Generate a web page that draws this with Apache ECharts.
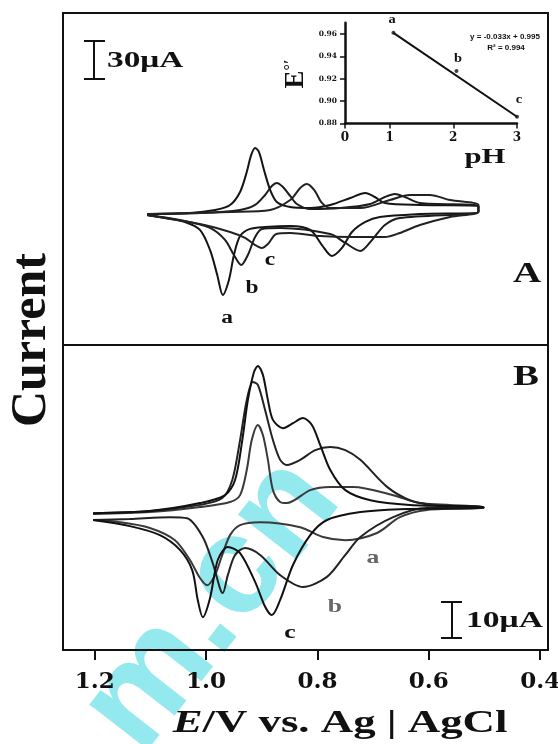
<!DOCTYPE html>
<html><head><meta charset="utf-8">
<script src="https://cdn.jsdelivr.net/npm/echarts@6/dist/echarts.min.js"></script>
<style>html,body{margin:0;padding:0;background:#fff}#c{width:558px;height:744px}</style>
</head><body><div id="c"></div>
<script>
// ---- Panel A: CVs (E / V, I / µA) ----
const cvA_a = [[1.106,0],[1.029,0.8],[0.984,3.2],[0.957,7.1],[0.939,17.4],[0.927,33.1],[0.919,46.6],[0.912,52.1],[0.905,48.9],[0.896,34.7],[0.885,19.0],[0.873,9.5],[0.849,5.5],[0.813,4.7],[0.777,7.1],[0.741,12.6],[0.714,16.6],[0.697,13.4],[0.679,8.7],[0.616,7.1],[0.511,6.3],
[0.511,1.6],[0.616,0],[0.688,-2.4],[0.714,-6.3],[0.738,-14.2],[0.756,-26.8],[0.774,-33.1],[0.792,-24.5],[0.813,-12.6],[0.849,-9.5],[0.894,-10.3],[0.921,-11.8],[0.939,-17.4],[0.950,-32.4],[0.959,-52.1],[0.970,-63.9],[0.980,-48.1],[0.993,-28.4],[1.011,-12.6],[1.038,-6.3],[1.074,-3.2],[1.106,-0.8]];
const cvA_b = [[1.106,0],[1.011,0.8],[0.939,3.2],[0.912,7.1],[0.894,15.0],[0.882,22.1],[0.873,24.5],[0.862,21.3],[0.849,14.2],[0.837,7.9],[0.813,3.9],[0.759,4.7],[0.705,7.9],[0.679,13.4],[0.661,15.8],[0.643,13.4],[0.616,8.7],[0.511,6.3],
[0.511,1.6],[0.652,-3.2],[0.679,-8.7],[0.702,-20.5],[0.723,-29.2],[0.750,-22.9],[0.777,-15.8],[0.867,-11.0],[0.900,-11.8],[0.912,-18.2],[0.925,-32.4],[0.937,-40.3],[0.950,-32.4],[0.966,-20.5],[0.993,-11.0],[1.047,-4.7],[1.106,-0.8]];
const cvA_c = [[1.106,0],[0.957,1.6],[0.885,3.2],[0.849,11.0],[0.831,20.5],[0.819,23.7],[0.806,19.0],[0.792,8.7],[0.777,4.7],[0.723,4.7],[0.670,11.0],[0.634,15.0],[0.598,15.0],[0.562,11.0],[0.511,7.1],
[0.511,1.6],[0.562,-2.4],[0.616,-8.7],[0.652,-15.0],[0.679,-18.2],[0.741,-18.2],[0.795,-17.4],[0.849,-15.0],[0.874,-15.8],[0.889,-23.7],[0.900,-26.8],[0.912,-24.5],[0.930,-18.9],[0.957,-14.2],[1.011,-7.9],[1.106,-0.8]];

// ---- Panel B: CVs (E / V, I / µA) ----
const cvB_a = [[1.203,-1.9],[1.101,-1.4],[1.011,0],[0.957,1.4],[0.939,3.3],[0.927,10.3],[0.918,18.6],[0.907,22.8],[0.898,20.0],[0.889,13.1],[0.880,4.7],[0.867,1.4],[0.855,1.1],[0.813,4.7],[0.777,5.6],[0.736,5.6],[0.664,3.3],[0.616,1.1],[0.502,0],
[0.502,-0.3],[0.603,-0.8],[0.652,-2.8],[0.693,-7.2],[0.750,-9.2],[0.790,-8.3],[0.831,-5.6],[0.903,-4.2],[0.939,-5.0],[0.957,-7.8],[0.971,-13.3],[0.984,-18.9],[0.998,-21.7],[1.011,-19.7],[1.029,-14.7],[1.056,-9.2],[1.101,-5.8],[1.155,-4.2],[1.203,-3.6]];
const cvB_b = [[1.203,-1.7],[1.101,-1.1],[1.011,0.6],[0.971,2.5],[0.953,7.5],[0.939,18.6],[0.927,29.7],[0.916,34.7],[0.907,33.9],[0.894,26.9],[0.880,18.6],[0.867,13.1],[0.855,11.7],[0.831,13.1],[0.804,15.8],[0.777,16.7],[0.750,15.8],[0.723,13.1],[0.675,5.6],[0.634,1.9],[0.592,0.6],[0.502,0],
[0.502,-0.3],[0.603,-0.3],[0.664,-2.8],[0.723,-8.3],[0.750,-13.3],[0.783,-19.4],[0.826,-22.2],[0.867,-18.9],[0.903,-13.3],[0.930,-11.4],[0.948,-13.3],[0.961,-18.9],[0.970,-23.9],[0.988,-15.6],[1.006,-8.3],[1.034,-3.1],[1.065,-2.8],[1.137,-3.3],[1.203,-3.6]];
const cvB_c = [[1.203,-1.7],[1.101,-1.1],[1.011,1.1],[0.966,3.3],[0.948,7.5],[0.935,18.6],[0.925,29.7],[0.914,37.5],[0.907,39.2],[0.898,36.7],[0.889,29.7],[0.880,24.2],[0.862,21.9],[0.844,23.3],[0.826,24.7],[0.810,22.8],[0.795,17.2],[0.777,10.3],[0.750,4.7],[0.705,1.9],[0.634,0.6],[0.502,0],
[0.502,-0.3],[0.652,-0.6],[0.723,-1.4],[0.783,-3.6],[0.813,-7.8],[0.844,-16.1],[0.867,-25.8],[0.882,-30.0],[0.894,-27.7],[0.912,-20.8],[0.939,-12.8],[0.961,-11.1],[0.979,-14.7],[0.993,-25.3],[1.006,-30.6],[1.015,-25.8],[1.025,-17.5],[1.047,-11.9],[1.083,-7.8],[1.137,-5.3],[1.203,-3.6]];

// ---- Inset: E0' vs pH ----
const insetPH = [1.06, 2.05, 3.0];
const insetE = [0.961, 0.927, 0.886];
const insetNames = ['a', 'b', 'c'];
const insetXTicks = [0.3, 1, 2, 3];
const insetXTickLabels = ['0', '1', '2', '3'];
const insetYTicks = [0.88, 0.90, 0.92, 0.94, 0.96];
const fitText = ['y = -0.033x + 0.995', 'R\u00B2 = 0.994'];

// ---- Main x axis ticks ----
const xTicks = [1.2, 1.0, 0.8, 0.6, 0.4];
const xTickLabels = ['1.2', '1.0', '0.8', '0.6', '0.4'];

const X_MIN = 0.386, X_MAX = 1.257;
const SERIF = '"Liberation Serif","Times New Roman",serif';
const WIDE = '"DejaVu Serif",serif';
const SANS = '"Liberation Sans",Arial,sans-serif';

function labelFor(vals, labels) {
  return v => { const i = vals.findIndex(t => Math.abs(t - v) < 1e-6); return i >= 0 ? labels[i] : ''; };
}
function cv(data, idx, color) {
  return { type: 'line', data, xAxisIndex: idx, yAxisIndex: idx, symbol: 'none', smooth: 0.3,
    lineStyle: { color, width: 2 }, z: 3, animation: false, silent: true };
}
function txt(x, y, text, size, opts) {
  opts = opts || {};
  return { type: 'text', x, y, scaleX: opts.sx || 1, rotation: opts.rot || 0, z: 50,
    style: { text, fontSize: size, fontFamily: opts.family || SERIF, fontWeight: opts.weight || 'bold',
      fill: opts.fill || '#111', align: opts.align || 'center', verticalAlign: 'middle',
      textAlign: opts.align || 'center', textVerticalAlign: 'middle', rich: opts.rich } };
}
function seg(x1, y1, x2, y2, w) {
  return { type: 'line', z: 50, shape: { x1, y1, x2, y2 }, style: { stroke: '#111', lineWidth: w || 2 } };
}

const chart = echarts.init(document.getElementById('c'), null, { renderer: 'canvas' });
const gridBase = { containLabel: false, outerBoundsMode: 'none' };
const option = {
  animation: false,
  backgroundColor: '#fff',
  grid: [
    Object.assign({ left: 63, top: 13, width: 485, height: 332, show: true, borderColor: '#111', borderWidth: 2, backgroundColor: 'transparent' }, gridBase),
    Object.assign({ left: 63, top: 345, width: 485, height: 305, show: true, borderColor: '#111', borderWidth: 2, backgroundColor: 'transparent' }, gridBase),
    Object.assign({ left: 345, top: 22.8, width: 172, height: 100.7 }, gridBase)
  ],
  xAxis: [
    { gridIndex: 0, type: 'value', min: X_MIN, max: X_MAX, inverse: true, show: false },
    { gridIndex: 1, type: 'value', min: X_MIN, max: X_MAX, inverse: true,
      axisLine: { show: true, onZero: false, lineStyle: { color: '#111', width: 2 } },
      axisTick: { show: true, inside: false, length: 10, customValues: xTicks, lineStyle: { color: '#111', width: 2 } },
      axisLabel: { show: true, customValues: xTicks, formatter: labelFor(xTicks, xTickLabels), margin: 21, hideOverlap: false,
        fontFamily: WIDE, fontWeight: 'bold', fontSize: 23, color: '#111' },
      splitLine: { show: false } },
    { gridIndex: 2, type: 'value', min: 0.3, max: 3,
      axisLine: { show: true, onZero: false, lineStyle: { color: '#111', width: 2.5 } },
      axisTick: { show: true, inside: false, length: 5, customValues: insetXTicks, lineStyle: { color: '#111', width: 1.5 } },
      axisLabel: { show: true, customValues: insetXTicks, formatter: labelFor(insetXTicks, insetXTickLabels), margin: 8,
        fontFamily: WIDE, fontWeight: 'bold', fontSize: 12, color: '#111' },
      splitLine: { show: false } }
  ],
  yAxis: [
    { gridIndex: 0, type: 'value', min: -103.4, max: 158.6, show: false },
    { gridIndex: 1, type: 'value', min: -39.7, max: 45.0, show: false },
    { gridIndex: 2, type: 'value', min: 0.88, max: 0.97,
      axisLine: { show: true, onZero: false, lineStyle: { color: '#111', width: 2.5 } },
      axisTick: { show: true, inside: false, length: 5, customValues: insetYTicks, lineStyle: { color: '#111', width: 1.5 } },
      axisLabel: { show: true, customValues: insetYTicks, formatter: v => v.toFixed(2), margin: 8,
        fontFamily: WIDE, fontWeight: 'bold', fontSize: 7.5, color: '#111' },
      splitLine: { show: false } }
  ],
  series: [
    cv(cvA_a, 0, '#151515'), cv(cvA_b, 0, '#1c1c1c'), cv(cvA_c, 0, '#222'),
    cv(cvB_a, 1, '#3a3a3a'), cv(cvB_b, 1, '#222'), cv(cvB_c, 1, '#111'),
    { type: 'line', xAxisIndex: 2, yAxisIndex: 2, symbol: 'none', z: 3,
      data: [[insetPH[0], insetE[0]], [insetPH[insetPH.length - 1], insetE[insetE.length - 1]]],
      lineStyle: { color: '#111', width: 2 } },
    { type: 'scatter', xAxisIndex: 2, yAxisIndex: 2, symbol: 'circle', symbolSize: 4, z: 4,
      data: insetPH.map((p, i) => ({ value: [p, insetE[i]], name: insetNames[i] })),
      itemStyle: { color: '#111' } }
  ],
  graphic: [
    // watermark
    { type: 'text', x: 212, y: 605, rotation: 0.907, z: 0,
      style: { text: 'm.cn', fontSize: 140, fontFamily: SANS, fontWeight: 'bold', fill: 'rgba(60,215,225,0.55)',
        align: 'center', verticalAlign: 'middle', textAlign: 'center', textVerticalAlign: 'middle' } },
    // axis titles
    txt(32, 340, 'Current', 50, { rot: Math.PI / 2 }),
    txt(340, 724, '{i|E}/V vs. Ag | AgCl', 32, { sx: 1.4,
      rich: { i: { fontStyle: 'italic', fontWeight: 'bold', fontSize: 32, fontFamily: SERIF, fill: '#111' } } }),
    // panel letters
    txt(527, 274, 'A', 30, { sx: 1.3 }),
    txt(526, 377, 'B', 30, { sx: 1.3 }),
    // scale bar A
    seg(94, 41, 94, 79), seg(84, 41, 105, 41), seg(84, 79, 105, 79),
    txt(107, 61, '30\u03BCA', 23, { sx: 1.45, align: 'left' }),
    // scale bar B
    seg(452, 602, 452, 638), seg(441, 602, 462, 602), seg(441, 638, 462, 638),
    txt(466, 621, '10\u03BCA', 24, { sx: 1.4, align: 'left' }),
    // curve labels A
    txt(227, 318, 'a', 18, { sx: 1.3 }), txt(252, 288, 'b', 18, { sx: 1.3 }), txt(270, 260, 'c', 18, { sx: 1.3 }),
    // curve labels B
    txt(373, 558, 'a', 19, { sx: 1.35, fill: '#666' }), txt(335, 607, 'b', 19, { sx: 1.35, fill: '#666' }),
    txt(290, 633, 'c', 19, { sx: 1.35 }),
    // inset texts
    txt(392, 20, insetNames[0], 12, { sx: 1.2 }), txt(458, 59, insetNames[1], 12, { sx: 1.2 }), txt(519, 100, insetNames[2], 12, { sx: 1.2 }),
    txt(505, 37, fitText[0], 8, { family: SANS }),
    txt(506, 48, fitText[1], 8, { family: SANS }),
    txt(485, 157, 'pH', 22, { sx: 1.4 }),
    txt(296, 74, '{e|E}{s|\u00B0\u2032}', 27, { rot: Math.PI / 2,
      rich: { e: { fontSize: 27, fontWeight: 'bold', fontFamily: SERIF, fill: '#111' },
              s: { fontSize: 16, fontWeight: 'bold', fontFamily: SERIF, fill: '#111', verticalAlign: 'top' } } })
  ]
};
chart.setOption(option);
</script>
</body></html>
